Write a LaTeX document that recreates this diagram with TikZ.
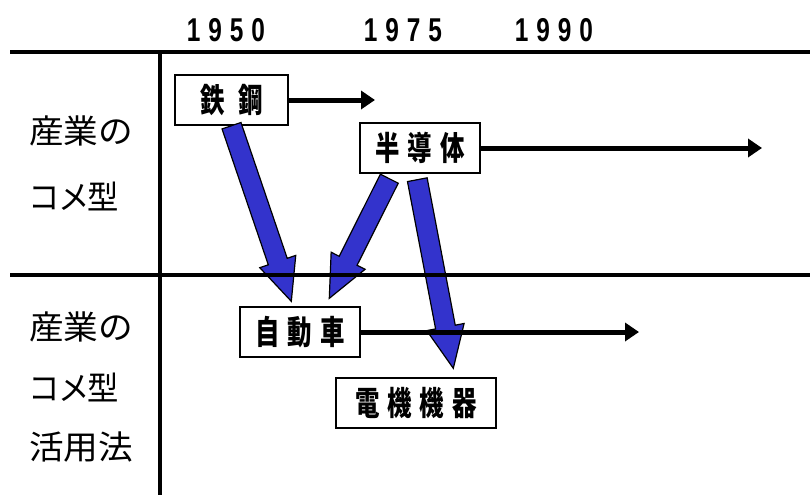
\documentclass[tikz,border=0pt]{standalone}
\usepackage{fontspec}
\usetikzlibrary{calc,arrows.meta}
\newfontfamily\jpreg[FakeStretch=1.05]{Noto Sans CJK JP}
\newfontfamily\jpprop[FakeStretch=0.95,LetterSpace=-6]{Noto Sans CJK JP}
\newfontfamily\jpbox[FakeStretch=0.74,LetterSpace=24]{Noto Sans CJK JP}
\newfontfamily\yearfont[FakeStretch=0.74,LetterSpace=24]{Liberation Sans}
\definecolor{arrowblue}{RGB}{51,51,204}
\tikzset{
  blockarr/.style={fill=arrowblue, draw=black, line width=1.2pt, line join=miter},
  labelbox/.style={draw=black, line width=1.4pt, fill=white, inner sep=0pt,
    minimum height=50pt, font=\jpbox\bfseries\fontsize{33}{33}\selectfont},
  timeline/.style={line width=5pt, -{Triangle[length=14pt,width=18pt]}},
  divider/.style={line width=4.5pt},
  sidelabel/.style={font=\jpreg\fontsize{33}{33}\selectfont, inner sep=0pt},
  sidelabelp/.style={font=\jpprop\fontsize{33}{33}\selectfont, inner sep=0pt},
  yearlabel/.style={font=\yearfont\bfseries\fontsize{33}{33}\selectfont, inner sep=0pt}
}
\newcommand\blockarrow[2]{%
  \coordinate (ba-s) at (#1);
  \coordinate (ba-t) at (#2);
  \coordinate (ba-b) at ($(ba-t)!42pt!(ba-s)$);
  \path[blockarr] ($(ba-s)!10pt!90:(ba-t)$) -- ($(ba-b)!10pt!-90:(ba-s)$)
    -- ($(ba-b)!19pt!-90:(ba-s)$) -- (ba-t) -- ($(ba-b)!19pt!90:(ba-s)$)
    -- ($(ba-b)!10pt!90:(ba-s)$) -- ($(ba-s)!10pt!-90:(ba-t)$) -- cycle;
}
\begin{document}
\begin{tikzpicture}[x=1pt,y=-1pt]
\useasboundingbox[fill=white] (0,0) rectangle (810,495);
% years
\node[yearlabel] (y1950) at (226,30) {1950};
\node[yearlabel] (y1975) at (403,30) {1975};
\node[yearlabel] (y1990) at (554,30) {1990};
% side labels
\node[sidelabel] (l1a) at (81,131) {産業の};
\node[sidelabelp] (l1b) at (74,196) {コメ型};
\node[sidelabel] (l2a) at (81,327) {産業の};
\node[sidelabelp] (l2b) at (74,387) {コメ型};
\node[sidelabel] (l2c) at (81,447) {活用法};
% boxes
\node[labelbox, minimum width=113pt] (steel) at (231.5,100) {鉄 鋼};
\node[labelbox, minimum width=120pt] (semi) at (420,148) {半導体};
\node[labelbox, minimum width=120pt] (car) at (300,332) {自動車};
\node[labelbox, minimum width=160pt] (elec) at (416,403) {電機機器};
% time arrows
\coordinate (steelEnd) at (375,100);
\coordinate (semiEnd) at (762,148);
\coordinate (carEnd) at (639,332);
% block arrows
\blockarrow{steel.south}{$(car.north west)+(52,-5)$}
\blockarrow{$(semi.south west)+(30,5)$}{$(car.north west)+(90,-8)$}
\blockarrow{$(semi.south west)+(58,6)$}{$(elec.north west)+(118,-9)$}
% grid lines
\coordinate (topL) at (10,52);
\coordinate (topR) at (810,52);
\coordinate (midL) at (10,275);
\coordinate (midR) at (810,275);
\coordinate (vT) at (160,52);
\coordinate (vB) at (160,495);
\draw[divider] (topL) -- (topR);
\draw[divider] (midL) -- (midR);
\draw[divider] (vT) -- (vB);
\draw[timeline] (steel.east) -- (steelEnd);
\draw[timeline] (semi.east) -- (semiEnd);
\draw[timeline] (car.east) -- (carEnd);
\end{tikzpicture}
\end{document}
